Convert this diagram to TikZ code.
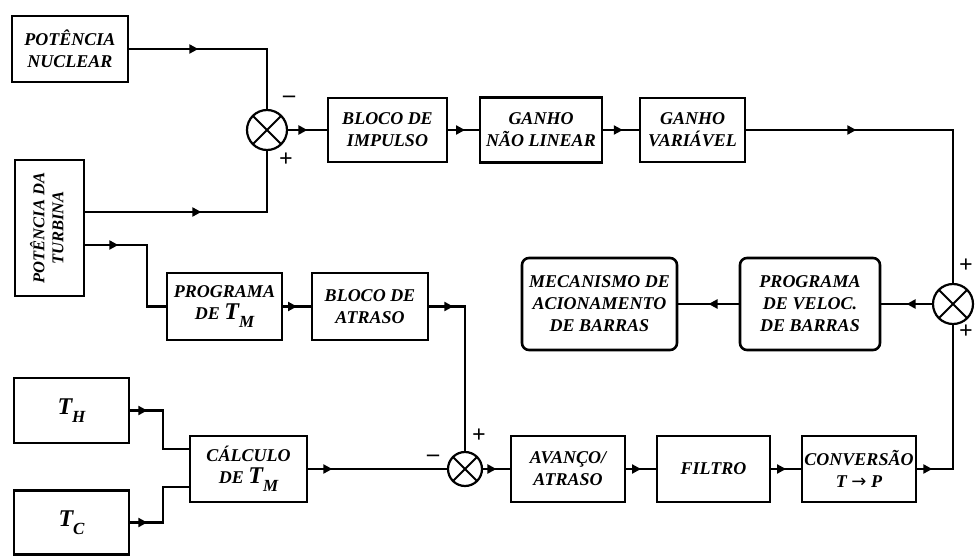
\documentclass[tikz,border=0pt]{standalone}
\usepackage{fontspec}
\setmainfont{Liberation Serif}
\newfontfamily\arrowfont{DejaVu Sans}
\usetikzlibrary{arrows.meta,decorations.markings}
\newcommand\bt{\bfseries\itshape\fontsize{18}{22}\selectfont}
\newcommand\sgn{\bfseries\fontsize{24}{24}\selectfont}
\newcommand\bigT[1]{{\fontsize{24}{24}\selectfont T}\raisebox{-0.45em}{\fontsize{17}{17}\selectfont #1}}
\begin{document}
\begin{tikzpicture}[x=1pt,y=-1pt,line width=2.2pt,
  blk/.style={draw,line width=2.6pt,align=center,font=\bt,inner sep=1pt},
  rblk/.style={blk,rounded corners=7pt},
  sumj/.style={draw,circle,line width=2.2pt,minimum size=#1,inner sep=0pt,
    path picture={\draw[line width=2pt] (path picture bounding box.north west) -- (path picture bounding box.south east)
      (path picture bounding box.north east) -- (path picture bounding box.south west);}},
  marr/.style={postaction={decorate},decoration={markings,mark=at position #1 with {\arrow{Triangle[length=9pt,width=9pt]}}}},
  sg/.style={font=\sgn,inner sep=0pt}]
\useasboundingbox (0,0) rectangle (975,556);

% blocks
\node[blk,minimum width=116,minimum height=66] (nuc) at (70,49) {POTÊNCIA\\NUCLEAR};
\node[blk,minimum width=69,minimum height=136,font=\bfseries\itshape\fontsize{16.5}{19}\selectfont] (turb) at (49.5,228)
  {\rotatebox{90}{\begin{tabular}{@{}c@{}}POTÊNCIA DA\\TURBINA\end{tabular}}};
\node[blk,minimum width=119,minimum height=64] (bi) at (387.5,130) {BLOCO DE\\IMPULSO};
\node[blk,minimum width=122,minimum height=65] (gnl) at (541,130) {GANHO\\NÃO LINEAR};
\node[blk,minimum width=105,minimum height=64] (gv) at (692.5,130) {GANHO\\VARIÁVEL};
\node[rblk,minimum width=140,minimum height=92] (pvb) at (810,304) {PROGRAMA\\DE VELOC.\\DE BARRAS};
\node[rblk,minimum width=155,minimum height=92] (mab) at (599.5,304) {MECANISMO DE\\ACIONAMENTO\\DE BARRAS};
\node[blk,minimum width=115,minimum height=67] (ptm) at (224.5,306.5) {PROGRAMA\\DE \bigT{M}};
\node[blk,minimum width=116,minimum height=67] (ba) at (370,306.5) {BLOCO DE\\ATRASO};
\node[blk,minimum width=115,minimum height=65] (th) at (71.5,410.5) {\bigT{H}};
\node[blk,minimum width=115,minimum height=64] (tc) at (71.5,522.5) {\bigT{C}};
\node[blk,minimum width=117,minimum height=66] (calc) at (248.5,469) {CÁLCULO\\DE \bigT{M}};
\node[blk,minimum width=114,minimum height=66] (av) at (568,469) {AVANÇO/\\ATRASO};
\node[blk,minimum width=113,minimum height=66] (fi) at (713.5,469) {FILTRO};
\node[blk,minimum width=114,minimum height=66] (cv) at (859,469) {CONVERSÃO\\T {\arrowfont\upshape\mdseries →} P};

% summing junctions
\node[sumj=40] (s1) at (267,130) {};
\node[sumj=34] (s2) at (465,469) {};
\node[sumj=40] (s3) at (953,304) {};

% signs
\node[sg] (m1) at (289,99) {–};
\node[sg] (p1) at (286,160) {+};
\node[sg] (m2) at (433,458) {–};
\node[sg] (p2) at (479,436) {+};
\node[sg] (p3) at (966,266) {+};
\node[sg] (p4) at (966,332) {+};

% junction helpers
\coordinate (j1) at (147,245);
\coordinate (j2) at (163,449);
\coordinate (j3) at (163,487);

% connectors
\draw[marr=69pt] (nuc.east) -- (nuc.east -| s1) -- (s1.north);
\draw[marr=116pt] (turb.east |- 0,212) -- (s1 |- 0,212) -- (s1.south);
\draw[marr=0.5] (s1.east) -- (s1.east -| bi.west);
\draw[marr=0.55] (bi.east) -- (gnl.west);
\draw[marr=0.55] (gnl.east) -- (gv.west);
\draw[marr=110pt] (gv.east) -| (s3.north);
\draw[marr=0.5] (s3.west) -- (pvb.east);
\draw[marr=0.5] (pvb.west) -- (mab.east);
\draw[marr=33pt] (turb.east |- j1) -- (j1) |- (ptm.west);
\draw[marr=0.5] (ptm.east) -- (ba.west);
\draw[marr=24pt] (ba.east) -| (s2.north);
\draw[marr=17pt] (th.east) -| (j2) -- (j2 -| calc.west);
\draw[marr=17pt] (tc.east) -| (j3) -- (j3 -| calc.west);
\draw[marr=24pt] (calc.east) -- (s2.west);
\draw[marr=0.5] (s2.east) -- (av.west);
\draw[marr=0.5] (av.east) -- (fi.west);
\draw[marr=0.5] (fi.east) -- (cv.west);
\draw[marr=15pt] (cv.east) -| (s3.south);
\end{tikzpicture}
\end{document}
